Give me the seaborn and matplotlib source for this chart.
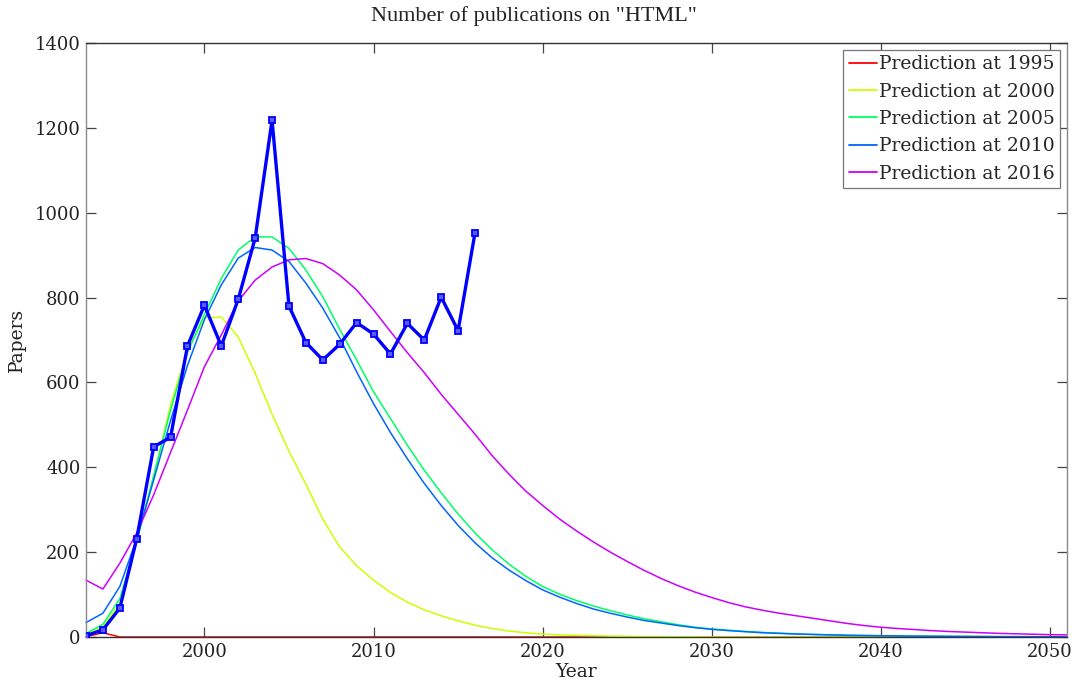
import numpy as np
import pandas as pd
import matplotlib
matplotlib.use("Agg")
import matplotlib.pyplot as plt
import seaborn as sns

# ---- data -------------------------------------------------------------
years = list(range(1993, 2052))

observed_years = list(range(1993, 2017))
observed_papers = [3, 17, 68, 232, 448, 471, 686, 782, 686, 796, 940, 1218,
                   780, 694, 653, 690, 741, 714, 667, 739, 700, 801, 722, 953]

pred_1995 = [1, 10, 0, 0, 0, 0, 0, 0, 0, 0, 0, 0, 0, 0, 0, 0, 0, 0, 0, 0,
             0, 0, 0, 0, 0, 0, 0, 0, 0, 0, 0, 0, 0, 0, 0, 0, 0, 0, 0, 0,
             0, 0, 0, 0, 0, 0, 0, 0, 0, 0, 0, 0, 0, 0, 0, 0, 0, 0, 0]

pred_2000 = [5, 24, 78, 228, 378, 547, 676, 752, 754, 707, 622, 525, 438, 360,
             278, 212, 168, 134, 105, 82, 64, 50, 38, 28, 20, 14, 10, 7, 5, 4,
             3, 2, 1.5, 1, 1, 0.5, 0.5, 0, 0, 0, 0, 0, 0, 0, 0, 0, 0, 0, 0, 0,
             0, 0, 0, 0, 0, 0, 0, 0, 0]

pred_2005 = [8, 30, 90, 225, 380, 535, 670, 760, 845, 912, 943, 943, 916, 865,
             802, 725, 653, 578, 515, 452, 393, 340, 290, 245, 206, 172, 143,
             119, 101, 86, 73, 62, 52, 43, 36, 29, 23, 19, 16, 13, 11, 9, 7.5,
             6, 5, 4, 3.5, 3, 2.5, 2, 1.8, 1.5, 1.2, 1, 0.8, 0.7, 0.6, 0.5, 0.4]

pred_2010 = [34, 56, 119, 232, 370, 510, 640, 748, 830, 893, 918, 912, 885,
             834, 775, 705, 625, 550, 482, 420, 362, 310, 263, 222, 187, 158,
             133, 111, 94, 79, 66, 56, 47, 39, 33, 27, 22, 18, 15, 12.5, 10,
             8.5, 7, 6, 5, 4, 3.5, 3, 2.5, 2.1, 1.8, 1.5, 1.3, 1.1, 0.9, 0.8,
             0.7, 0.6, 0.5]

pred_2016 = [134, 113, 174, 245, 335, 435, 535, 637, 712, 792, 841, 872, 889,
             892, 880, 853, 818, 771, 720, 670, 623, 572, 525, 478, 428, 384,
             344, 310, 278, 250, 224, 200, 178, 157, 138, 121, 106, 93, 81, 71,
             63, 56, 50, 44, 38, 32, 27, 23, 20, 17.5, 15, 13, 11.5, 10, 8.5,
             7.5, 6.5, 5.5, 5]

labels = ["Prediction at 1995", "Prediction at 2000", "Prediction at 2005",
          "Prediction at 2010", "Prediction at 2016"]
series = [pred_1995, pred_2000, pred_2005, pred_2010, pred_2016]
colors = ["#ff0000", "#ccff00", "#00ff66", "#0066ff", "#cc00ff"]

pred_df = pd.concat(
    [pd.DataFrame({"Year": years, "Papers": vals, "Model": lab})
     for lab, vals in zip(labels, series)],
    ignore_index=True)
obs_df = pd.DataFrame({"Year": observed_years, "Papers": observed_papers})

# ---- figure -----------------------------------------------------------
sns.set_theme(style="white")
plt.rcParams["font.family"] = ["DejaVu Serif"]

fig = plt.figure(figsize=(10.8, 6.95), dpi=100)
ax = fig.add_axes([86 / 1080, 1 - 637 / 695, (1067 - 86) / 1080, (637 - 43) / 695])

sns.lineplot(data=pred_df, x="Year", y="Papers", hue="Model",
             hue_order=labels, palette=colors, linewidth=1.1, ax=ax,
             legend=False, clip_on=False)
sns.lineplot(data=obs_df, x="Year", y="Papers", color="#0000ff",
             linewidth=2.4, marker="s", markersize=4,
             markerfacecolor="#5a5aff", markeredgecolor="#0000ff",
             markeredgewidth=1.3, ax=ax, legend=False, zorder=5)

ax.set_xlim(1993, 2051)
ax.set_ylim(0, 1400)
ax.set_xticks(range(2000, 2051, 10))
ax.set_yticks(range(0, 1401, 200))
ax.tick_params(direction="in", length=7, width=0.9, color="#444444",
               labelsize=13, labelcolor="#222222", top=True, right=True,
               bottom=True, left=True, pad=4)

for side, col in {"left": "#8a8a8a", "right": "#8a8a8a",
                  "top": "#333333", "bottom": "#333333"}.items():
    ax.spines[side].set_visible(True)
    ax.spines[side].set_color(col)
    ax.spines[side].set_linewidth(1.0)

ax.set_xlabel("Year", fontsize=13.5, color="#222222", labelpad=2)
ax.set_ylabel("Papers", fontsize=13.5, color="#222222", labelpad=6)

fig.text(534 / 1080, 1 - 16 / 695, 'Number of publications on "HTML"',
         ha="center", va="center", fontsize=16, color="#222222",
         family="Liberation Serif")

handles = [plt.Line2D([], [], color=c, lw=1.3) for c in colors]
leg = ax.legend(handles, labels, loc="upper right", fontsize=13.5,
                frameon=True, fancybox=False, edgecolor="#777777",
                framealpha=1, handlelength=1.5, handletextpad=0.1,
                labelspacing=0.5, borderpad=0.3, borderaxespad=0.35)
leg.get_frame().set_linewidth(0.9)

fig.savefig("out.png", dpi=100)
